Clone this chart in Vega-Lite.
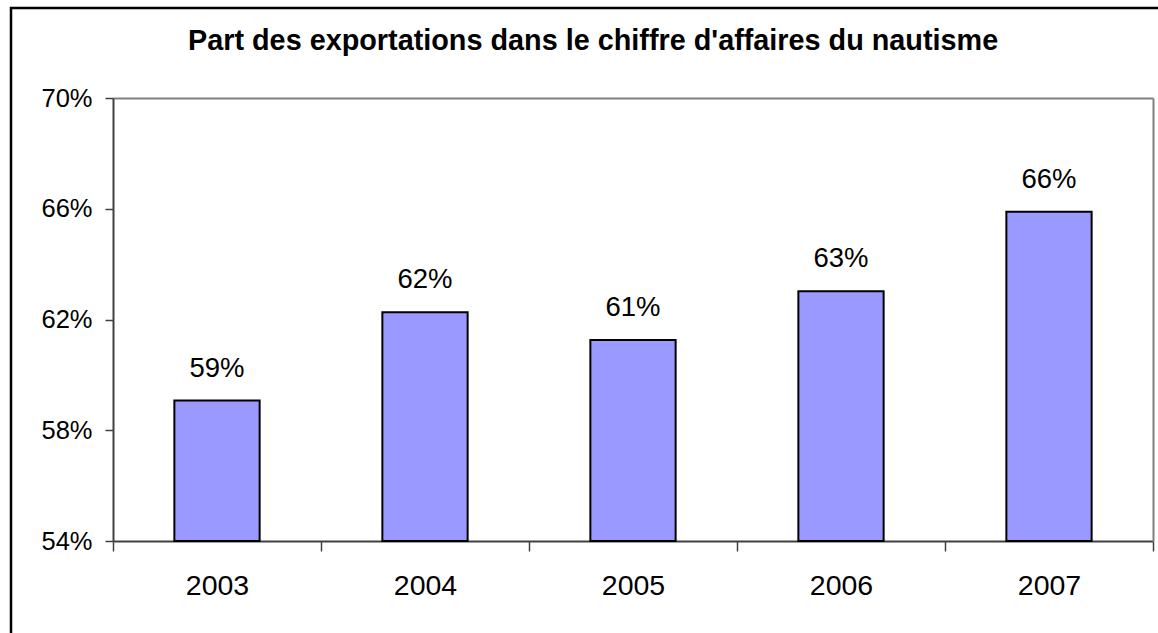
{
  "$schema": "https://vega.github.io/schema/vega-lite/v6.json",
  "autosize": "none",
  "padding": {"left": 11, "top": 8, "right": 0, "bottom": 0},
  "width": 1160,
  "height": 640,
  "background": "white",
  "title": {
    "text": "Part des exportations dans le chiffre d'affaires du nautisme",
    "orient": "top",
    "anchor": "start",
    "frame": "group",
    "dx": 177,
    "offset": -48,
    "font": "Liberation Sans",
    "fontSize": 28.8,
    "fontWeight": "bold",
    "color": "black"
  },
  "data": {
    "values": [
      {"year": "2003", "share": 0.5907},
      {"year": "2004", "share": 0.6226},
      {"year": "2005", "share": 0.6126},
      {"year": "2006", "share": 0.6302},
      {"year": "2007", "share": 0.6589}
    ]
  },
  "encoding": {
    "x": {
      "field": "year",
      "type": "nominal",
      "scale": {"range": [102, 1142], "paddingInner": 0, "paddingOuter": 0}
    },
    "y": {
      "field": "share",
      "type": "quantitative",
      "scale": {"domain": [0.54, 0.70], "range": [533, 90], "nice": false, "zero": false}
    }
  },
  "layer": [
    {
      "mark": {"type": "bar", "fill": "#9999FF", "stroke": "black", "strokeWidth": 2, "width": {"band": 0.41}},
      "encoding": {
        "x": {
          "field": "year",
          "type": "nominal",
          "axis": {
            "orient": "bottom",
            "offset": -107,
            "title": null,
            "labelAngle": 0,
            "tickBand": "extent",
            "tickSize": 10,
            "tickColor": "#404040",
            "tickWidth": 1.5,
            "domainColor": "#404040",
            "domainWidth": 2,
            "labelPadding": 20,
            "labelFont": "Liberation Sans",
            "labelFontSize": 28.5,
            "labelColor": "black"
          }
        },
        "y": {
          "field": "share",
          "type": "quantitative",
          "axis": {
            "orient": "left",
            "offset": -102,
            "title": null,
            "values": [0.54, 0.58, 0.62, 0.66, 0.70],
            "format": ".0%",
            "grid": false,
            "tickSize": 8,
            "tickColor": "#404040",
            "tickWidth": 1.5,
            "domainColor": "#404040",
            "domainWidth": 2,
            "labelPadding": 13,
            "labelFont": "Liberation Sans",
            "labelFontSize": 25.5,
            "labelColor": "black"
          }
        },
        "y2": {"datum": 0.54}
      }
    },
    {
      "mark": {"type": "text", "baseline": "alphabetic", "dy": -24, "font": "Liberation Sans", "fontSize": 27.5, "color": "black"},
      "encoding": {
        "text": {"field": "share", "type": "quantitative", "format": ".0%"},
        "x": {
          "field": "year",
          "type": "nominal",
          "axis": {
            "orient": "top",
            "offset": -90,
            "title": null,
            "labels": false,
            "ticks": false,
            "domainColor": "#808080",
            "domainWidth": 2
          }
        },
        "y": {
          "field": "share",
          "type": "quantitative",
          "axis": {
            "orient": "right",
            "offset": -18,
            "title": null,
            "labels": false,
            "ticks": false,
            "grid": false,
            "domainColor": "#808080",
            "domainWidth": 2
          }
        }
      }
    }
  ],
  "resolve": {"axis": {"x": "independent", "y": "independent"}},
  "config": {
    "view": {"stroke": "black", "strokeWidth": 2.5},
    "axis": {"grid": false}
  }
}
